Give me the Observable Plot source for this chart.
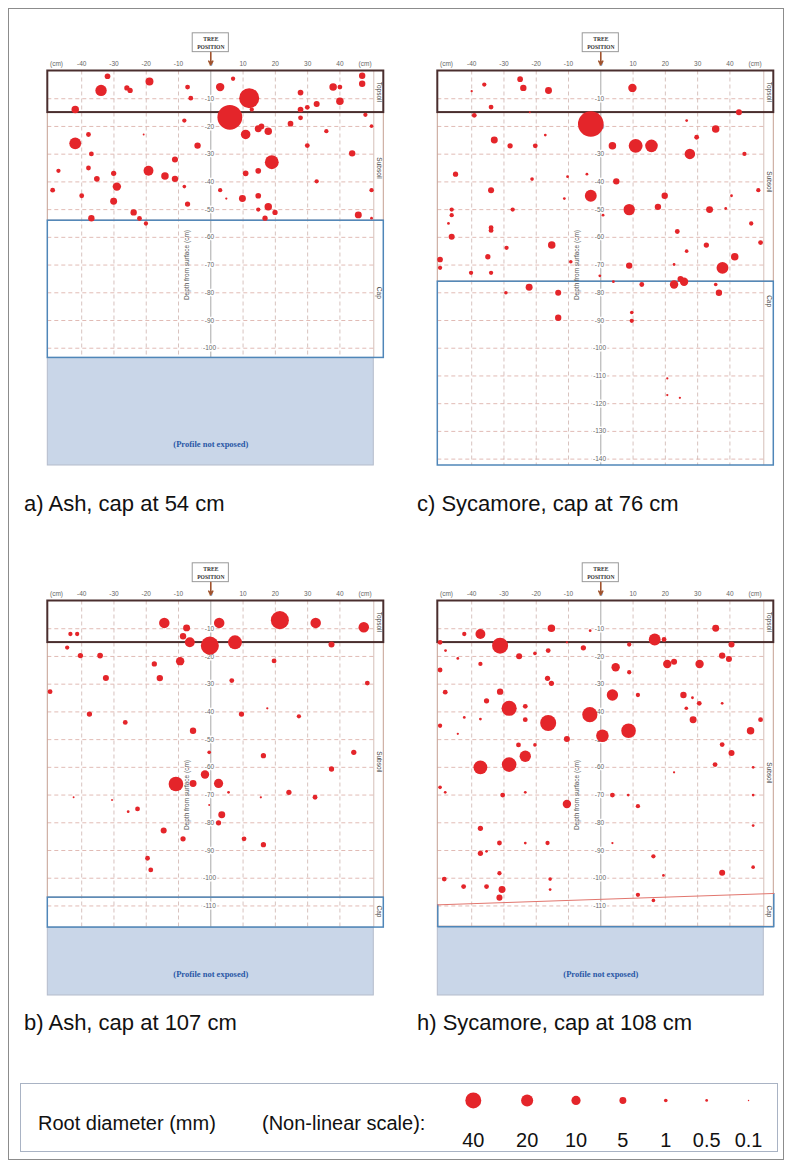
<!DOCTYPE html>
<html>
<head>
<meta charset="utf-8">
<script src="https://cdn.jsdelivr.net/npm/d3@7"></script>
<script src="https://cdn.jsdelivr.net/npm/@observablehq/plot@0.6"></script>
<style>
  html, body { margin: 0; padding: 0; background: #fff; }
  #page { position: relative; width: 792px; height: 1168px; font-family: "Liberation Sans", Arial, sans-serif; }
  .frame { position: absolute; left: 8px; top: 8px; width: 776px; height: 1152px; border: 1.5px solid #8c8c8c; box-sizing: border-box; }
  .panel { position: absolute; }
  .title { position: absolute; font-size: 22px; color: #111; white-space: nowrap; line-height: 1; }
  #legend { position: absolute; left: 20px; top: 1083px; width: 758px; height: 69px; border: 1.5px solid #a9b3c4; box-sizing: border-box; background: #fff; }
  #legend .lab { position: absolute; font-size: 20px; color: #111; white-space: nowrap; line-height: 1; }
  #legend svg { position: absolute; left: -1.5px; top: -1.5px; overflow: visible; }
</style>
</head>
<body>
<div id="page">
  <div class="frame"></div>
  <div class="panel" id="pa" style="left:0px;top:0px"></div>
  <div class="panel" id="pc" style="left:390px;top:0px"></div>
  <div class="panel" id="pb" style="left:0px;top:530px"></div>
  <div class="panel" id="ph" style="left:390px;top:530px"></div>
  <div class="title" id="ta" style="left:24px;top:493px"></div>
  <div class="title" id="tc" style="left:417px;top:493px"></div>
  <div class="title" id="tb" style="left:24px;top:1012px"></div>
  <div class="title" id="th" style="left:417px;top:1012px"></div>
  <div id="legend">
    <div class="lab" style="left:17px;top:29px">Root diameter (mm)</div>
    <div class="lab" style="left:241px;top:29px">(Non-linear scale):</div>
  </div>
</div>
<script>
// ---------------- DATA ----------------
// Each root: [horizontal distance from tree (cm), depth below surface (cm), root diameter (mm)]
const ashCap54 = [
  [-32,1.9,3],[-34,7,17],[-26,6.1,2.5],[-25,7,2.5],[-19,3.8,7],[-7.2,5.8,2],[-6.2,9.8,2],[2.9,5.8,8],[6.9,2.8,1.5],
  [11.9,9.8,70],[12.7,13.9,1.5],[27.8,7.8,3],[27.8,13.9,3],[29.9,13.1,2],[32.8,11.9,3.5],[37.9,5.8,6],[40,5.8,2],
  [40,10.9,6],[46.9,1.7,4],[46.9,4.6,4],[-42,13.9,6],
  [5.9,16.7,120],[-8.2,17.9,1.5],[47.9,15.8,1.5],[27.8,16.9,2],[24.7,19,3],[14.7,20.8,5],[15.7,20,3],[17.8,21.7,6],
  [10.8,22.9,11],[49.8,19.9,1],[35.8,21.7,1.5],[-37.9,22.9,2],[-42,26.1,19],[-20.8,22.9,0.2],[-4.1,26.9,4],[29.9,26.9,2],
  [-37,29.9,2],[43.8,29.7,4],[-11.1,31.9,3.5],[18.9,32.9,28],[-47.2,36,1.5],[-37.9,35,2],[-19.3,36,12],[-30.1,36.9,2.5],
  [10.8,36.9,3],[14.7,36,3],[-14.2,37.9,6],[-11.1,38.9,4],[-35.3,38.9,3],[-29.1,41.7,8],[-8.2,41.7,1],[32.8,39.8,1.5],
  [-49,43,2],[2.9,43,1.5],[49.8,43,1.5],[-40,45,2],[4.8,46,0.3],[9.8,46,5],[14.7,45,3],[-30.1,47,5],[-7.2,48,2.5],
  [17.8,49,6],[14.7,50,1.5],[19.9,51,2.5],[-23.9,51,4],[45.7,51.9,5],[-22.1,53.2,2],[-37,53.1,4],[16.8,53.1,2.5],
  [49.8,53.1,0.5],[-20.1,55,1.5]
];
const sycamoreCap76 = [
  [-25,2.95,3],[-36.1,4.9,1.5],[-24,6.1,4],[-40,7.3,0.3],[-16.2,7,5],[9.8,6.1,8],[-34,13,2],[-39.2,16,2],[42.8,14.9,3.5],
  [-22,14.9,0.2],
  [-3.1,19.1,130],[26.6,17.9,0.5],[35.6,20.9,6],[-33,24.9,5],[-17.2,23.1,0.5],[29.7,23.9,2],[-28.1,27,2.5],[-20.3,27,2],
  [3.6,27,6],[10.8,27,28],[15.7,27,22],[27.6,29.9,14],[44.5,29.9,1.5],[-45,37.2,2.5],[-21.3,39,1],[-10.3,38.1,0.5],
  [-4.3,37.2,0.5],[4.8,39.8,4],[-34,43,3.5],[-3.1,45,19],[-11.3,46,0.5],[19.8,45,4],[40.5,45,0.5],[48.8,43,1.5],
  [-46.2,50,1.5],[-27.3,50,1.5],[8.8,50,17],[17.7,49,4],[33.7,50,5],[38.7,49.6,0.5],[-46.2,52,1.5],[0.7,52,0.5],
  [-47.2,55,0.5],[46.6,55,1.5],[-34,56.5,2],[-34,57.5,2],
  [-46.2,59.8,3.5],[-29.2,63.8,1.5],[-15.2,62.8,6],[-35,67,2.5],[-49.8,68,3],[-49.8,71,1.5],[-40.2,72.8,1.5],
  [-34,72.8,1.5],[-9.3,68.8,1],[-0.3,73.9,0.5],[8.8,70.2,4],[23.7,57.9,2],[26.6,65,1],[22.7,69.8,0.5],[32.7,62.8,2.5],
  [41.5,67,6],[37.7,71,19],[49.5,61.9,2],[3.9,76,0.5],
  [-22.2,78,5],[-29.4,80,1],[-13.2,80,3.5],[12.7,77,2],[22.7,77,8],[24.7,75,3.5],[25.8,76,8],[35.6,77,1],[36.6,80,4],
  [-13.2,89,4],[9.6,87.1,1],[9.6,90.1,1.5],[20.6,110.9,0.3],[20.6,116.9,0.3],[24.5,117.9,0.3]
];
const ashCap107 = [
  [-14.4,7.9,14],[-7.5,9.7,5],[2.6,7.9,14],[21.4,6.9,54],[32.5,7.9,14],[47.4,9.5,14],[-43.5,11.9,1.5],[-41.4,11.9,1.5],
  [-8.6,12.7,4],[-6.5,14.9,12],[-0.3,16.1,54],[7.5,14.9,28],[37.4,15.7,3.5],
  [-44.5,16.8,1.5],[-40.4,19.7,2.5],[-34.3,19.7,3],[-9.5,21.7,8],[-17.5,22.7,2.5],[19.6,21.6,2],[-32.5,27.8,3.5],
  [-15.8,27.8,4],[6.5,28.7,2],[-49.8,32.7,2],[48.5,29.6,2],[-37.6,40.8,2.5],[-26.5,43.8,2],[9.5,40.8,2.5],[17.5,38.7,0.3],
  [27.3,41.6,1.5],
  [-5.5,46.8,4],[-0.5,54.6,1],[16.3,55.8,2.5],[44.3,54.6,2.5],[37.4,60.6,2.5],[-1.8,62.6,8],[-10.8,66,32],[-5.5,65.8,5],
  [2.4,65.8,10],[5.5,69,0.5],[24.2,69,2.5],[32.3,70.8,2],[15.5,70.8,0.3],[-42.5,70.8,0.2],[-30.6,71.8,0.2],[-22.7,75,2],
  [-25.6,76,0.5],[-0.5,73.6,0.2],[3.4,77.1,5],[2.4,80,2.5],[-14.6,82.8,3.5],[-8.6,85.8,2.5],[10.3,85.8,2],[16.3,87.9,2.5],
  [-19.6,92.8,2],[-18.6,97,2]
];
const sycamoreCap108 = [
  [-15.3,9.8,6],[-3.3,10.7,0.5],[35.6,9.8,5],[-42.3,11.9,1.5],[-37.3,11.9,12],[16.7,13.9,19],[19.6,13.9,2],[-49.8,14.9,2],
  [-10.5,14.9,0.3],
  [-31.2,16.1,40],[8.8,15.7,1.5],[40.5,15.7,3.5],[-48.1,17.9,0.5],[-5.4,16.9,2.5],[-16.3,17.9,2],[-20.4,18.9,1],
  [-25.3,19.9,3.5],[-44.3,20.7,0.5],[37.6,19.7,4],[39.7,20.9,3.5],[-37.3,22.7,1.5],[20.6,22.7,8],[22.7,21.9,3.5],
  [30.6,22.7,8],[4.6,23.9,8],[-49.8,24.9,2],[8.8,25.7,1.5],[-16.5,27.9,2.5],[-15.3,29.7,2.5],[-31.2,32.7,4],[3.6,33.9,17],
  [11.5,33.9,1.5],[-48.2,32.9,2],[25.6,33.9,4],[28.4,34.9,0.5],[30.5,36.9,2],[-35.4,36,2.5],[-28.4,38.7,35],[-23.4,38,2],
  [-3.4,41,35],[26.5,38.7,1],[37.6,36.9,0.5],[-42.3,42,0.5],[-37.3,42.6,0.5],[-23.4,42.8,2],[-16.3,44,40],[-49.8,45,1.5],
  [49.5,42.8,2],[8.6,46.8,32],[46.4,46.8,6],[0.5,48.6,22],
  [28.6,42.8,5],[-44.3,47.9,0.3],[-10.5,49.8,3.5],[-25.5,51.9,2],[-20.4,51.9,1],[37.6,51.8,2],[40.5,54.8,3.5],
  [-37.3,60,28],[-28.4,59,32],[-23.4,56,17],[35.4,59,2],[22.7,61.8,0.3],[47.2,60,0.5],[-49.8,67.2,1],[-48.2,69,0.5],
  [-30.4,70,2],[-23.4,69,0.5],[3.6,70,2],[8.5,70,0.5],[47.2,70,0.5],[-10.5,73.2,8],[11.5,74,1.5],[-37.3,82,2.5],
  [47.2,81,0.5],[-31.4,87.3,2],[-23.4,87.3,0.5],[-16.5,87.3,1.5],[3.6,87.3,0.3],[-37.3,91,2.5],[-35.4,90.3,0.5],
  [16.3,92.1,1.5],[19.4,99,0.5],[37.6,98,3.5],[47.2,96,1],[-31.4,98.2,1.5],[-48.5,100.3,2],[-15.7,100.3,1],[-42.5,103,2],
  [-35.4,103,2],[-30.6,104.1,5],[-15.7,104.1,0.5],[-31.4,107,3.5],[11.5,106,1.5],[16.3,108,1]
];

const panelTitles = ["a) Ash, cap at 54 cm", "c) Sycamore, cap at 76 cm", "b) Ash, cap at 107 cm", "h) Sycamore, cap at 108 cm"];
const topsoilBase = [15, 15, 15, 15];           // cm
const capTopDepth = [54, 76, 107, 108];          // cm
const profileExposedTo = [103.5, 142.3, 117.8, 117.5]; // cm, bottom of recorded profile
const depthTickMax = [100, 140, 110, 110];
const horizonNames = ["Topsoil", "Subsoil", "Cap"];
const horizonLabelDepth = [[7.5, 35, 80], [7.5, 40, 83], [7.5, 58, 112], [7.5, 62, 112]];
const capSlopeH = [[-50.5, 109.6], [53.6, 105.5]];  // sloping cap surface, panel h
const distanceTicks = [-40, -30, -20, -10, 0, 10, 20, 30, 40];
const legendDiameters = [40, 20, 10, 5, 1, 0.5, 0.1];
const legendLabels = ["40", "20", "10", "5", "1", "0.5", "0.1"];

// ---------------- DRAWING ----------------
const RED = "#e4252a";
const rScale = {type: "pow", exponent: 0.4, domain: [0, 40], range: [0, 8]};
const X0 = -50.5, X1 = 50.5, XC = 53.6, YMAX = 142.3;

function panel(pts, i, sloped) {
  const W = 392, H = 470;
  const bottom = profileExposedTo[i];
  const capTop = capTopDepth[i];
  const gridX = distanceTicks.filter(v => v !== 0);
  const gridY = d3.range(10, bottom, 10);
  const yTicks = d3.range(10, depthTickMax[i] + 1, 10);
  const shaded = bottom < YMAX - 1;
  const marks = [];
  if (shaded) {
    marks.push(Plot.rect([0], {x1: X0, x2: X1, y1: bottom, y2: YMAX, fill: "#c9d6e8", stroke: "#b4bccb", strokeWidth: 1}));
    marks.push(Plot.text(["(Profile not exposed)"], {x: 0, y: 134.8, fontFamily: "Liberation Serif, serif", fontWeight: "bold", fontSize: 8.5, fill: "#2a58a6"}));
  }
  marks.push(Plot.ruleX(gridX, {y1: 0, y2: bottom, stroke: "#cdb2ad", strokeDasharray: "4,3", strokeWidth: 0.8}));
  marks.push(Plot.ruleY(gridY, {x1: X0, x2: X1, stroke: "#d9aaa2", strokeDasharray: "4,3", strokeWidth: 0.8}));
  marks.push(Plot.ruleX([0], {y1: 0, y2: bottom, stroke: "#a8a8a8", strokeWidth: 1}));
  marks.push(Plot.ruleX([X1], {y1: 0, y2: bottom, stroke: "#c9aea6", strokeWidth: 0.8}));
  // subsoil outline
  marks.push(Plot.rect([0], {x1: X0, x2: XC, y1: topsoilBase[i], y2: sloped ? bottom : capTop, fill: "none", stroke: "#c59f92", strokeWidth: 1}));
  // cap outline
  if (sloped) {
    const p = [[capSlopeH[0][0], capSlopeH[0][1]], [X0, bottom], [XC, bottom], [capSlopeH[1][0], capSlopeH[1][1]]];
    marks.push(Plot.line(p, {x: d => d[0], y: d => d[1], stroke: "#4f86b8", strokeWidth: 1.5}));
    marks.push(Plot.line(capSlopeH, {x: d => d[0], y: d => d[1], stroke: "#e2766e", strokeWidth: 1}));
  } else {
    marks.push(Plot.rect([0], {x1: X0, x2: XC, y1: capTop, y2: bottom, fill: "none", stroke: "#4f86b8", strokeWidth: 1.5}));
  }
  // topsoil box
  marks.push(Plot.rect([0], {x1: X0, x2: XC, y1: 0, y2: topsoilBase[i], fill: "none", stroke: "#4a2e2e", strokeWidth: 2}));
  // horizon labels
  marks.push(Plot.text(horizonNames, {x: (X1 + XC) / 2, y: horizonLabelDepth[i], text: d => d, rotate: 90, fontSize: 6.5, fill: "#444"}));
  // depth tick labels on the tree axis
  marks.push(Plot.text(yTicks, {x: -0.4, y: d => d, text: d => "-" + d, fontSize: 6.5, fill: "#666", stroke: "white", strokeWidth: 3}));
  // y title
  marks.push(Plot.text(["Depth from surface (cm)"], {x: -7.4, y: 70, rotate: -90, fontSize: 6.5, fill: "#555"}));
  // top distance labels
  marks.push(Plot.text(distanceTicks, {x: d => d, y: -2.6, text: d => String(d), fontSize: 6.5, fill: "#666"}));
  marks.push(Plot.text(["(cm)", "(cm)"], {x: [-47.8, 47.8], y: -2.6, text: d => d, fontSize: 6.5, fill: "#666"}));
  // tree position
  marks.push(Plot.rect([0], {x1: -5.6, x2: 5.6, y1: -13.6, y2: -6.8, fill: "white", stroke: "#9a9a9a", strokeWidth: 1}));
  marks.push(Plot.text(["TREE", "POSITION"], {x: 0, y: [-11.6, -8.6], text: d => d, fontFamily: "Liberation Serif, serif", fontWeight: "bold", fontSize: 5.6, fill: "#333"}));
  marks.push(Plot.arrow([0], {x1: 0, y1: -6.7, x2: 0, y2: -2.3, stroke: "#a0522d", strokeWidth: 1.6, headLength: 5}));
  // roots
  marks.push(Plot.dot(pts, {x: d => d[0], y: d => d[1], r: d => d[2], fill: RED, stroke: "none"}));

  return Plot.plot({
    width: W, height: H,
    marginLeft: 47.3, marginRight: W - 383.3, marginTop: 70.5, marginBottom: H - 465,
    style: {fontFamily: "Liberation Sans, Arial, sans-serif", background: "transparent", overflow: "visible"},
    x: {domain: [X0, XC], axis: null},
    y: {domain: [0, YMAX], reverse: true, axis: null},
    r: rScale,
    marks
  });
}

const datasets = [ashCap54, sycamoreCap76, ashCap107, sycamoreCap108];
["pa", "pc", "pb", "ph"].forEach((id, i) => {
  document.getElementById(id).appendChild(panel(datasets[i], i, i === 3));
});
["ta", "tc", "tb", "th"].forEach((id, i) => { document.getElementById(id).textContent = panelTitles[i]; });

// legend: item slots laid out by a piecewise-linear scale (non-uniform spacing as in the key)
const legendPlot = Plot.plot({
  width: 758, height: 69, margin: 0,
  style: {fontFamily: "Liberation Sans, Arial, sans-serif", background: "transparent", overflow: "visible"},
  x: {type: "linear", domain: d3.range(legendLabels.length), range: [454, 508, 557, 604, 647, 688, 730], axis: null},
  r: rScale,
  marks: [
    Plot.dot(legendDiameters, {x: (d, j) => j, r: d => d, fill: RED, frameAnchor: "top", dy: 17}),
    Plot.text(legendLabels, {x: (d, j) => j, text: d => d, fontSize: 20, fill: "#111", frameAnchor: "top", dy: 49})
  ]
});
document.getElementById("legend").appendChild(legendPlot);
</script>
</body>
</html>
